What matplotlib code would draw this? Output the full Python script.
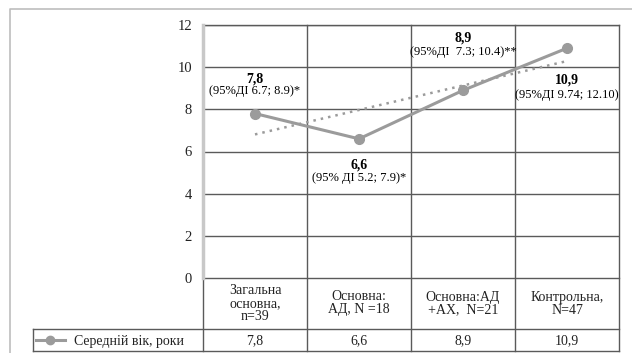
import matplotlib
matplotlib.use('Agg')
import matplotlib.pyplot as plt
import numpy as np

plt.rcParams['font.family'] = ['Liberation Serif', 'DejaVu Serif']

# data
categories = ['Загальна\nосновна,\nn=39', 'Основна:\nАД, N =18',
              'Основна:АД\n+АХ,  N=21', 'Контрольна,\nN=47']
mean_age = [7.8, 6.6, 8.9, 10.9]
ci_labels = ['(95%ДІ 6.7; 8.9)*', '(95% ДІ 5.2; 7.9)*',
             '(95%ДІ  7.3; 10.4)**', '(95%ДІ 9.74; 12.10)']
series_name = 'Середній вік, роки'
y_ticks = [0, 2, 4, 6, 8, 10, 12]

# label placement (data units)
bold_pos = [9.45, 5.35, 11.4, 9.38]
ci_pos = [8.85, 4.72, 10.7, 8.68]

W, H = 632, 353
fig = plt.figure(figsize=(W / 100, H / 100), dpi=100)

def fx(px):
    return px / W

def fy(py):
    return 1 - py / H

# overlay in pixel coords for frame and table
ov = fig.add_axes([0, 0, 1, 1])
ov.set_xlim(0, W)
ov.set_ylim(H, 0)
ov.axis('off')

grid_c = '#5a5a5a'
line_c = '#9b9b9b'
txt_c = '#222222'

# outer frame
ov.plot([10, 10, W + 5], [H + 5, 9, 9], color='#bdbdbd', lw=1.2)

# plot area
left, right, top, bottom = 203, 619, 25, 278
ax = fig.add_axes([fx(left), fy(bottom), fx(right - left), fy(top) - fy(bottom)])
ax.set_xlim(-0.5, 3.5)
ax.set_ylim(0, 12)
ax.set_xticks([])
ax.set_yticks(y_ticks)
ax.tick_params(axis='y', length=0, pad=8, labelsize=10.5, labelcolor=txt_c)
for s in ['top', 'right', 'bottom']:
    ax.spines[s].set_visible(False)
ax.spines['left'].set_color('#c8c8c8')
ax.spines['left'].set_linewidth(2.5)
ax.patch.set_alpha(0)
for yv in y_ticks[1:]:
    ax.axhline(yv, color=grid_c, lw=1.0, zorder=1)

x = np.arange(len(mean_age))
ax.plot(x, mean_age, color=line_c, lw=2.2, marker='o', ms=7,
        markeredgecolor=line_c, zorder=4)
# linear trend
k, b = np.polyfit(x, mean_age, 1)
ax.plot(x, k * x + b, color=line_c, lw=1.8, ls=(0, (1, 2)), zorder=3)

# annotations
for i, v in enumerate(mean_age):
    ax.text(i, bold_pos[i], '{:.1f}'.format(v).replace('.', ','),
            ha='center', va='center', fontsize=10, fontweight='bold')
    ax.text(i, ci_pos[i], ci_labels[i], ha='center', va='center', fontsize=9)

# table lines
col_w = (right - left) / len(categories)
bounds = [left + col_w * i for i in range(len(categories) + 1)]
row1, row2 = 329, 351
ov.plot([left, right], [top, top], color=grid_c, lw=1.0)
ov.plot([left, right], [bottom, bottom], color=grid_c, lw=1.0)
ov.plot([33, right], [row1, row1], color=grid_c, lw=1.0)
ov.plot([33, right], [row2, row2], color=grid_c, lw=1.0)
ov.plot([33, 33], [row1, row2], color=grid_c, lw=1.0)
ov.plot([left, left], [bottom, row2], color=grid_c, lw=1.0)
for bx in bounds[1:]:
    ov.plot([bx, bx], [top, row2], color=grid_c, lw=1.0)

for i, cat in enumerate(categories):
    cx = (bounds[i] + bounds[i + 1]) / 2
    ov.text(cx, (bottom + row1) / 2, cat, ha='center', va='center',
            fontsize=10, linespacing=1.0, color=txt_c)
    ov.text(cx, (row1 + row2) / 2 + 1, '{:.1f}'.format(mean_age[i]).replace('.', ','),
            ha='center', va='center', fontsize=10, color=txt_c)

# legend key
ov.plot([36, 65], [340, 340], color=line_c, lw=2.2)
ov.plot([50], [340], marker='o', ms=6, color=line_c)
ov.text(74, 341, series_name, ha='left', va='center', fontsize=10, color=txt_c)

fig.savefig('out.png', dpi=100)
